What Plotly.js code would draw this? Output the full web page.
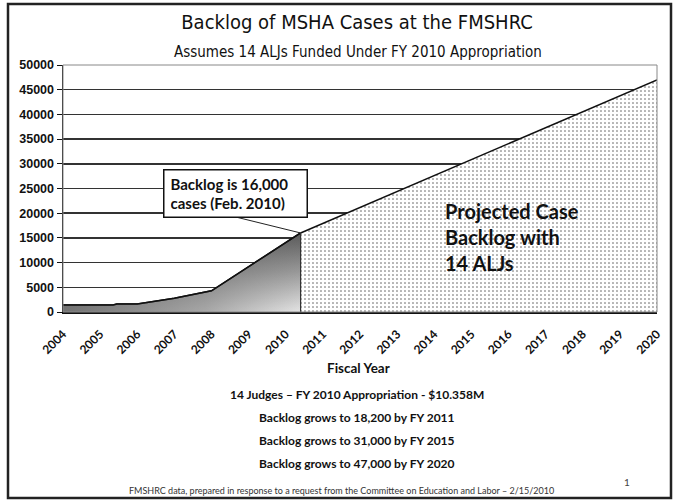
<!DOCTYPE html>
<html>
<head>
<meta charset="utf-8">
<script src="https://cdn.plot.ly/plotly-3.0.1.min.js"></script>
<style>html,body{margin:0;padding:0;background:#fff;}#chart{width:675px;height:501px;}</style>
</head>
<body>
<div id="chart"></div>
<script>
// ---- data ----
const histYears   = [2004, 2005.35, 2005.45, 2006, 2007, 2008, 2010.4];
const histBacklog = [1400, 1400, 1600, 1600, 2800, 4300, 16000];
const projYears   = [2010.4, 2020];
const projBacklog = [16000, 47000];
const yearTicks   = [2004,2005,2006,2007,2008,2009,2010,2011,2012,2013,2014,2015,2016,2017,2018,2019,2020];
const yearLabels  = yearTicks.map(String);
const backlogTicks = [0,5000,10000,15000,20000,25000,30000,35000,40000,45000,50000];

const titleText = 'Backlog of MSHA Cases at the FMSHRC';
const subtitleText = 'Assumes 14 ALJs Funded Under FY 2010 Appropriation';
const calloutText = 'Backlog is 16,000<br>cases (Feb. 2010)';
const projText = 'Projected Case<br>Backlog with<br>14 ALJs';
const notes = ['14 Judges \u2013 FY 2010 Appropriation - $10.358M',
               'Backlog grows to 18,200 by FY 2011',
               'Backlog grows to 31,000 by FY 2015',
               'Backlog grows to 47,000 by FY 2020'];
const footer = 'FMSHRC data, prepared in response to a request from the Committee on Education and Labor \u2013 2/15/2010';

const lastX = histYears[histYears.length-1];
const lastY = histBacklog[histBacklog.length-1];

const traces = [
  { // base area, vertical gradient
    x: histYears, y: histBacklog, type: 'scatter', mode: 'lines',
    fill: 'tozeroy',
    fillgradient: {type: 'vertical', start: 0, stop: lastY,
      colorscale: [[0,'#e4e4e4'],[0.5,'#9a9a9a'],[1,'#5a5a5a']]},
    line: {color: '#111', width: 1.5}, hoverinfo: 'skip', showlegend: false
  },
  { // horizontal darkening overlay to mimic diagonal gradient
    x: histYears, y: histBacklog, type: 'scatter', mode: 'lines',
    fill: 'tozeroy',
    fillgradient: {type: 'horizontal',
      colorscale: [[0,'rgba(95,95,95,0.85)'],[0.6,'rgba(95,95,95,0.45)'],[1,'rgba(95,95,95,0)']]},
    line: {color: '#111', width: 1.5}, hoverinfo: 'skip', showlegend: false
  },
  { // projected dotted area
    x: projYears, y: projBacklog, type: 'scatter', mode: 'lines',
    fill: 'tozeroy', fillcolor: '#ffffff',
    fillpattern: {shape: '.', bgcolor: '#ffffff', fgcolor: '#555', size: 4, solidity: 0.12},
    line: {color: '#111', width: 1.5}, hoverinfo: 'skip', showlegend: false
  },
  { // divider between actual and projected
    x: [projYears[0], projYears[0]], y: [0, projBacklog[0]], type: 'scatter', mode: 'lines',
    line: {color: '#333', width: 1.2}, hoverinfo: 'skip', showlegend: false
  }
];

const P = (px) => (px - 63) / 594;      // pixel x -> paper
const Q = (py) => (312 - py) / 247;     // pixel y -> paper

const boldFont = (size) => ({family: 'Lato, "Noto Sans", sans-serif', size: size, color: '#111', weight: 'bold'});
const narrow = '"Liberation Sans Narrow", "DejaVu Sans Condensed", "DejaVu Sans", sans-serif';

const annotations = [
  {xref:'paper', yref:'paper', x: P(358), y: Q(52), yanchor: 'middle', text: subtitleText, showarrow: false,
   font: {family: narrow, size: 15, color: '#111', stretch: 'condensed'}},
  {x: lastX, y: lastY, xref:'x', yref:'y', text: '', showarrow: true, arrowhead: 0,
   ax: -65, ay: -16, arrowwidth: 1, arrowcolor: '#222'},
  {xref:'paper', yref:'paper', x: P(235), y: Q(193.5), xanchor: 'center', yanchor: 'middle', text: calloutText, showarrow: false,
   align: 'left', width: 130, height: 34, borderpad: 6, borderwidth: 1.5, bordercolor: '#111',
   bgcolor: '#fff', font: boldFont(15)},
  {xref:'paper', yref:'paper', x: P(443), y: Q(237), xanchor: 'left', yanchor: 'middle', text: projText, showarrow: false,
   align: 'left', font: boldFont(20)},
  {xref:'paper', yref:'paper', x: P(358), y: Q(368), yanchor: 'middle', text: 'Fiscal Year', showarrow: false, font: boldFont(13.5)},
  {xref:'paper', yref:'paper', x: P(357), y: Q(394), yanchor: 'middle', text: notes[0], showarrow: false, font: boldFont(12)},
  {xref:'paper', yref:'paper', x: P(357), y: Q(417), yanchor: 'middle', text: notes[1], showarrow: false, font: boldFont(12)},
  {xref:'paper', yref:'paper', x: P(357), y: Q(440), yanchor: 'middle', text: notes[2], showarrow: false, font: boldFont(12)},
  {xref:'paper', yref:'paper', x: P(357), y: Q(463), yanchor: 'middle', text: notes[3], showarrow: false, font: boldFont(12)},
  {xref:'paper', yref:'paper', x: P(341), y: Q(490), yanchor: 'middle', text: footer, showarrow: false,
   font: {family: 'Lato, sans-serif', size: 9, color: '#333'}},
  {xref:'paper', yref:'paper', x: P(632), y: Q(482), yanchor: 'middle', text: '1', showarrow: false,
   font: {family: 'Lato, sans-serif', size: 10, color: '#444'}}
];

const layout = {
  width: 675, height: 501,
  margin: {l: 63, r: 18, t: 65, b: 189},
  paper_bgcolor: '#fff', plot_bgcolor: '#fff',
  title: {text: titleText, xref: 'paper', x: P(357), xanchor: 'center', y: 1 - 22/501, yanchor: 'middle',
          font: {family: narrow, size: 20, color: '#111', stretch: 'condensed'}},
  xaxis: {range: [2004, 2020], tickmode: 'array', tickvals: yearTicks, ticktext: yearLabels,
          tickangle: -45, tickfont: boldFont(12), showgrid: false, zeroline: false,
          showline: true, linecolor: '#111', linewidth: 1.5, ticks: '', ticklabelstandoff: 9},
  yaxis: {range: [0, 50000], tickmode: 'array', tickvals: backlogTicks, tickformat: 'd',
          tickfont: {family: '"Liberation Sans", Arial, sans-serif', size: 12.5, color: '#111', weight: 'bold'},
          showgrid: true, gridcolor: '#333', gridwidth: 1.5, zeroline: false,
          showline: true, linecolor: '#111', linewidth: 1.5, ticks: 'outside', ticklen: 5, tickcolor: '#111'},
  shapes: [
    {type: 'rect', xref: 'paper', yref: 'paper', x0: 0, x1: 1, y0: 0, y1: 1,
     line: {color: '#888', width: 1}, layer: 'above'},
    {type: 'rect', xref: 'paper', yref: 'paper', x0: P(8), x1: P(671), y0: Q(498), y1: Q(4),
     line: {color: '#222', width: 2.5}, layer: 'above'}
  ],
  annotations: annotations,
  showlegend: false
};

Plotly.newPlot('chart', traces, layout, {displayModeBar: false, staticPlot: true});
</script>
</body>
</html>
